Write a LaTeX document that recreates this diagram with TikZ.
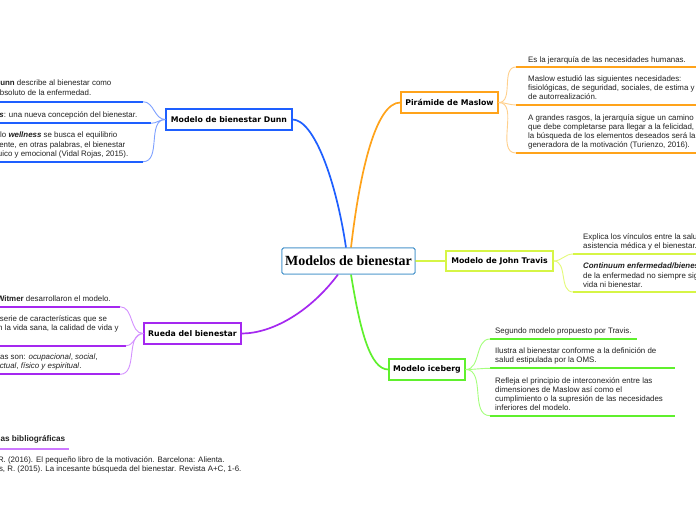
\documentclass[tikz,border=0pt]{standalone}
\usepackage{fontspec}
\setmainfont{Liberation Sans}
\newfontfamily\branchfam{DejaVu Sans}
\newfontfamily\centerfam{Liberation Serif}
\newcommand\leaffont{\fontsize{7.9}{9.2}\selectfont}
\newcommand\branchfont{\branchfam\bfseries\fontsize{7.8}{9}\selectfont}
\newcommand\centerfont{\centerfam\bfseries\fontsize{14}{16}\selectfont}
\definecolor{txt}{RGB}{34,34,34}
\definecolor{cenb}{RGB}{58,140,200}
\definecolor{blu}{RGB}{30,95,255}
\definecolor{bluL}{RGB}{125,160,255}
\definecolor{ora}{RGB}{255,163,26}
\definecolor{oraL}{RGB}{255,208,140}
\definecolor{yel}{RGB}{214,245,70}
\definecolor{yelL}{RGB}{228,250,120}
\definecolor{grn}{RGB}{95,240,45}
\definecolor{grnL}{RGB}{165,255,125}
\definecolor{pur}{RGB}{165,40,240}
\definecolor{purL}{RGB}{212,145,255}
\definecolor{purB}{RGB}{205,120,255}
\tikzset{
  centerbox/.style={draw=cenb, line width=0.9pt, fill=white, rounded corners=1.5pt,
    font=\centerfont, text=black, minimum width=133pt, minimum height=26pt, inner sep=0pt},
  branchbox/.style={line width=1.3pt, fill=white, font=\branchfont, text=black,
    minimum height=21pt, inner sep=0pt},
  leaf/.style={align=left, font=\leaffont, text=txt, inner sep=0pt, anchor=north west,
    execute at begin node=\strut},
  mainline/.style={line width=1.7pt},
  twig/.style={line width=0.9pt},
  uline/.style={line width=1.8pt},
}
\begin{document}
\begin{tikzpicture}[x=1pt,y=-1pt]
\useasboundingbox (0,0) rectangle (696,520);
\fill[white] (0,0) rectangle (696,520);
\clip (0,0) rectangle (696,520);

% ---------- main nodes ----------
\node[centerbox] (cen) at (348.5,261) {Modelos de bienestar};
\node[branchbox, draw=blu, minimum width=126pt] (dunn) at (229,119.5) {Modelo de bienestar Dunn};
\node[branchbox, draw=ora, minimum width=97pt] (mas) at (449.5,102.5) {Pirámide de Maslow};
\node[branchbox, draw=yel, minimum width=107pt, minimum height=20pt] (tra) at (499.5,261) {Modelo de John Travis};
\node[branchbox, draw=grn, minimum width=76pt] (ice) at (427,369.5) {Modelo iceberg};
\node[branchbox, draw=pur, minimum width=97pt] (rue) at (192.5,333.5) {Rueda del bienestar};

% ---------- main connectors ----------
\draw[mainline, blu] ([xshift=-2.5pt]cen.north) .. controls (336,180) and (314,120) .. (dunn.east);
\draw[mainline, ora] ([xshift=2.5pt]cen.north) .. controls (360,170) and (376,102.5) .. (mas.west);
\draw[twig, yel, line width=1.2pt] (cen.east) -- (tra.west);
\draw[mainline, grn] ([xshift=2.5pt]cen.south) .. controls (360,330) and (370,369.5) .. (ice.west);
\draw[mainline, pur] ([xshift=-10.5pt]cen.south) .. controls (310,312) and (272,333.5) .. (rue.east);
\node[centerbox] at (cen) {Modelos de bienestar};

% ---------- Dunn children ----------
\node[leaf] (d1) at (-35,80) {\textbf{Halbert Dunn} describe al bienestar como\\opuesto absoluto de la enfermedad.};
\node[leaf] (d2) at (-73,111) {\textbf{\textit{High-Level Wellness}}: una nueva concepción del bienestar.};
\node[leaf] (d3) at (-40,132) {En el modelo \textbf{\textit{wellness}} se busca el equilibrio\\cuerpo y mente, en otras palabras, el bienestar\\físico, psíquico y emocional (Vidal Rojas, 2015).};
\coordinate (d1a) at (143,101.7); \coordinate (d1b) at (-40,101.7);
\coordinate (d2a) at (151,123.3); \coordinate (d2b) at (-78,123.3);
\coordinate (d3a) at (143,161.7); \coordinate (d3b) at (-47,161.7);
\foreach \c in {d1,d2,d3}{
  \draw[uline, blu] (\c a) -- (\c b);
  \draw[twig, bluL] (dunn.west) to[out=180,in=0] (\c a);
}

% ---------- Maslow children ----------
\node[leaf] (m1) at (528,56) {Es la jerarquía de las necesidades humanas.};
\node[leaf] (m2) at (528,75) {Maslow estudió las siguientes necesidades:\\fisiológicas, de seguridad, sociales, de estima y\\de autorrealización.};
\node[leaf] (m3) at (528,114) {A grandes rasgos, la jerarquía sigue un camino\\que debe completarse para llegar a la felicidad,\\la búsqueda de los elementos deseados será la\\generadora de la motivación (Turienzo, 2016).};
\coordinate (m1a) at (516,67); \coordinate (m1b) at (710,67);
\coordinate (m2a) at (516,105); \coordinate (m2b) at (710,105);
\coordinate (m3a) at (516,153); \coordinate (m3b) at (710,153);
\foreach \c in {m1,m2,m3}{
  \draw[uline, ora] (\c a) -- (\c b);
  \draw[twig, oraL] (mas.east) to[out=0,in=180] (\c a);
}

% ---------- Travis children ----------
\node[leaf] (t1) at (583,233) {Explica los vínculos entre la salud, la\\asistencia médica y el bienestar.};
\node[leaf] (t2) at (583,263) {\textbf{\textit{Continuum enfermedad/bienestar:}} la ausencia\\de la enfermedad no siempre significa calidad de\\vida ni bienestar.};
\coordinate (t1a) at (573,254); \coordinate (t1b) at (710,254);
\coordinate (t2a) at (573,292); \coordinate (t2b) at (710,292);
\foreach \c in {t1,t2}{
  \draw[uline, yel] (\c a) -- (\c b);
  \draw[twig, yelL] (tra.east) to[out=0,in=180] (\c a);
}

% ---------- Iceberg children ----------
\node[leaf] (i1) at (495,326.7) {Segundo modelo propuesto por Travis.};
\node[leaf] (i2) at (495,347.7) {Ilustra al bienestar conforme a la definición de\\salud estipulada por la OMS.};
\node[leaf] (i3) at (495,377) {Refleja el principio de interconexión entre las\\dimensiones de Maslow así como el\\cumplimiento o la supresión de las necesidades\\inferiores del modelo.};
\coordinate (i1a) at (490,339); \coordinate (i1b) at (637,339);
\coordinate (i2a) at (490,368.3); \coordinate (i2b) at (675,368.3);
\coordinate (i3a) at (490,415.7); \coordinate (i3b) at (675,415.7);
\foreach \c in {i1,i2,i3}{
  \draw[uline, grn] (\c a) -- (\c b);
  \draw[twig, grnL] (ice.east) to[out=0,in=180] (\c a);
}

% ---------- Rueda children ----------
\node[leaf] (r1) at (-73,295) {\textbf{Myers, Sweeney y Witmer} desarrollaron el modelo.};
\node[leaf] (r2) at (-49,315.3) {Describe una serie de características que se\\relacionan con la vida sana, la calidad de vida y\\el bienestar.};
\node[leaf] (r3) at (-59.7,353.3) {Las seis categorías son: \textit{ocupacional}, \textit{social},\\\textit{emocional, intelectual}, \textit{físico y espiritual}.};
\coordinate (r1a) at (120,306.7); \coordinate (r1b) at (-78,306.7);
\coordinate (r2a) at (126,345.7); \coordinate (r2b) at (-54,345.7);
\coordinate (r3a) at (120,374.3); \coordinate (r3b) at (-65,374.3);
\foreach \c in {r1,r2,r3}{
  \draw[uline, pur] (\c a) -- (\c b);
  \draw[twig, purL] (rue.west) to[out=180,in=0] (\c a);
}

% ---------- References ----------
\node[anchor=base west, inner sep=0pt, text=txt, font=\bfseries\fontsize{8.2}{9.4}\selectfont] (bt) at (-37,441.4) {Referencias bibliográficas};
\coordinate (bta) at (-40,449.3); \coordinate (btb) at (69,449.3);
\draw[uline, purB] (bta) -- (btb);
\node[leaf] (bl) at (-37,456) {Turienzo, R. (2016). El pequeño libro de la motivación. Barcelona: Alienta.\\Vidal Rojas, R. (2015). La incesante búsqueda del bienestar. Revista A+C, 1-6.};
\end{tikzpicture}
\end{document}
